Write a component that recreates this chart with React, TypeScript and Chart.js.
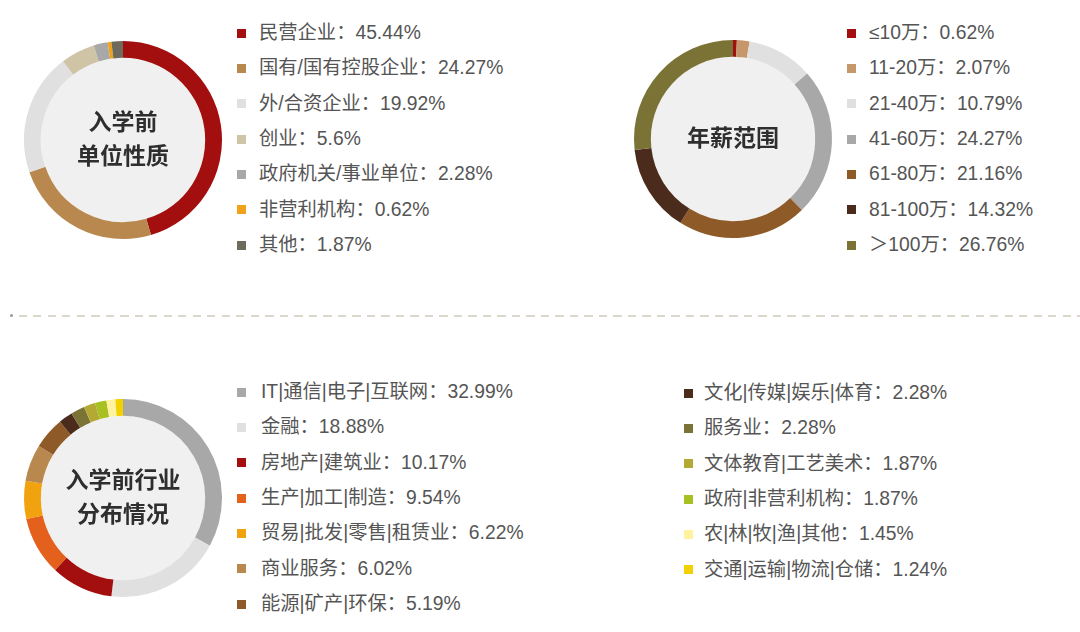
import React, { useEffect, useRef } from 'react';
import { Chart, DoughnutController, ArcElement } from 'chart.js';

Chart.register(DoughnutController, ArcElement);

// 入学前单位性质
const unitLabels = ['民营企业', '国有/国有控股企业', '外/合资企业', '创业', '政府机关/事业单位', '非营利机构', '其他'];
const unitValues = [45.44, 24.27, 19.92, 5.6, 2.28, 0.62, 1.87];
const unitColors = ['#a30e0e', '#b8884e', '#e0e0e0', '#cfc4a6', '#a8a8a8', '#f0a31a', '#6e6a5c'];

// 年薪范围
const salaryLabels = ['≤10万', '11-20万', '21-40万', '41-60万', '61-80万', '81-100万', '＞100万'];
const salaryValues = [0.62, 2.07, 10.79, 24.27, 21.16, 14.32, 26.76];
const salaryColors = ['#a30e0e', '#c6976a', '#e0e0e0', '#a8a8a8', '#8e5a28', '#4a2b1c', '#7b7335'];

// 入学前行业分布情况
const industryLabels = [
  'IT|通信|电子|互联网', '金融', '房地产|建筑业', '生产|加工|制造', '贸易|批发|零售|租赁业', '商业服务', '能源|矿产|环保',
  '文化|传媒|娱乐|体育', '服务业', '文体教育|工艺美术', '政府|非营利机构', '农|林|牧|渔|其他', '交通|运输|物流|仓储',
];
const industryValues = [32.99, 18.88, 10.17, 9.54, 6.22, 6.02, 5.19, 2.28, 2.28, 1.87, 1.87, 1.45, 1.24];
const industryColors = [
  '#a8a8a8', '#e0e0e0', '#a30e0e', '#e4601d', '#f0a30f', '#b8884e', '#8e5a28',
  '#4a2b1c', '#7b7335', '#b5a935', '#a9c022', '#fff3a0', '#f3d100',
];

const FONT = '"Liberation Sans", "Noto Sans CJK SC", sans-serif';
const ROW = 35.35;
const SIZE = 210;

// fills the hole of the doughnut with light grey
const centerFill = {
  id: 'centerFill',
  beforeDatasetsDraw(chart: any) {
    const arc: any = chart.getDatasetMeta(0).data[0];
    if (!arc) return;
    const { x, y, innerRadius } = arc.getProps(['x', 'y', 'innerRadius'], true);
    const ctx = chart.ctx;
    ctx.save();
    ctx.fillStyle = '#f0f0f0';
    ctx.beginPath();
    ctx.arc(x, y, innerRadius, 0, Math.PI * 2);
    ctx.fill();
    ctx.restore();
  },
};

type DonutProps = {
  labels: string[];
  values: number[];
  colors: string[];
  cx: number;
  cy: number;
  title: string[];
};

const Donut: React.FC<DonutProps> = ({ labels, values, colors, cx, cy, title }) => {
  const canvasRef = useRef<HTMLCanvasElement | null>(null);

  useEffect(() => {
    if (!canvasRef.current) return;
    const chart = new Chart(canvasRef.current, {
      type: 'doughnut',
      data: {
        labels,
        datasets: [{ data: values, backgroundColor: colors, borderWidth: 0 }],
      },
      options: {
        responsive: false,
        animation: false,
        radius: 99,
        cutout: '83%',
        layout: { padding: 0 },
        plugins: { legend: { display: false }, tooltip: { enabled: false } },
      },
      plugins: [centerFill],
    });
    return () => chart.destroy();
  }, []);

  return (
    <>
      <canvas
        ref={canvasRef}
        width={SIZE}
        height={SIZE}
        style={{ position: 'absolute', left: cx - SIZE / 2, top: cy - SIZE / 2, width: SIZE, height: SIZE }}
      />
      <div
        style={{
          position: 'absolute',
          left: cx - 80,
          top: cy - 43,
          width: 160,
          height: 80,
          display: 'flex',
          flexDirection: 'column',
          justifyContent: 'center',
          alignItems: 'center',
          fontFamily: '"Noto Sans CJK SC", sans-serif',
          fontWeight: 700,
          fontSize: 23,
          lineHeight: '34px',
          color: '#2e2e2e',
        }}
      >
        {title.map((t) => (
          <div key={t}>{t}</div>
        ))}
      </div>
    </>
  );
};

type LegendProps = {
  labels: string[];
  values: number[];
  colors: string[];
  squareX: number;
  textX: number;
  firstY: number;
};

const Legend: React.FC<LegendProps> = ({ labels, values, colors, squareX, textX, firstY }) => (
  <>
    {labels.map((l, i) => {
      const y = firstY + i * ROW;
      return (
        <React.Fragment key={l}>
          <div
            style={{
              position: 'absolute',
              left: squareX - 4.5,
              top: y - 4.5,
              width: 9,
              height: 9,
              background: colors[i],
            }}
          />
          <div
            style={{
              position: 'absolute',
              left: textX,
              top: y - 14,
              height: 28,
              lineHeight: '28px',
              fontFamily: FONT,
              fontSize: 19.3,
              color: '#555',
              whiteSpace: 'nowrap',
            }}
          >
            {l}：{values[i]}%
          </div>
        </React.Fragment>
      );
    })}
  </>
);

const App: React.FC = () => {
  useEffect(() => {
    document.body.style.margin = '0';
  }, []);

  return (
    <div style={{ position: 'relative', width: 1080, height: 632, background: '#fff', overflow: 'hidden' }}>
      <Donut labels={unitLabels} values={unitValues} colors={unitColors} cx={123} cy={140} title={['入学前', '单位性质']} />
      <Legend labels={unitLabels} values={unitValues} colors={unitColors} squareX={241} textX={259} firstY={33} />

      <Donut labels={salaryLabels} values={salaryValues} colors={salaryColors} cx={733} cy={139} title={['年薪范围']} />
      <Legend labels={salaryLabels} values={salaryValues} colors={salaryColors} squareX={851} textX={869} firstY={33} />

      <div style={{ position: 'absolute', left: 10, top: 314, width: 3, height: 3, borderRadius: 2, background: '#9a9a9a' }} />
      <div
        style={{
          position: 'absolute',
          left: 19,
          top: 315,
          width: 1061,
          height: 2,
          background: 'repeating-linear-gradient(90deg, #dcd8cb 0 8px, transparent 8px 14.5px)',
        }}
      />

      <Donut
        labels={industryLabels}
        values={industryValues}
        colors={industryColors}
        cx={123}
        cy={498}
        title={['入学前行业', '分布情况']}
      />
      <Legend
        labels={industryLabels.slice(0, 7)}
        values={industryValues.slice(0, 7)}
        colors={industryColors.slice(0, 7)}
        squareX={241}
        textX={261}
        firstY={392}
      />
      <Legend
        labels={industryLabels.slice(7)}
        values={industryValues.slice(7)}
        colors={industryColors.slice(7)}
        squareX={688}
        textX={704}
        firstY={393}
      />
    </div>
  );
};

export default App;
